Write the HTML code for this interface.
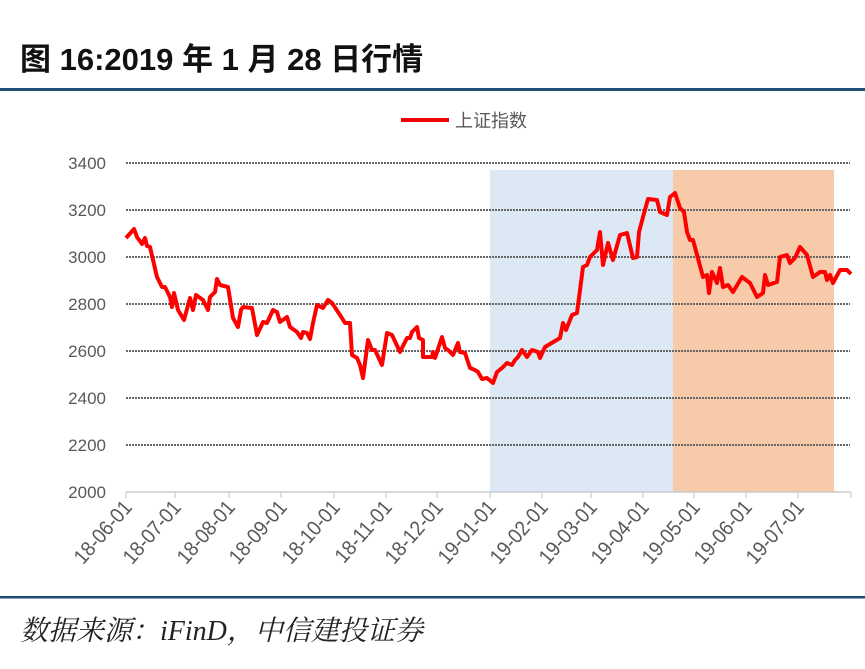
<!DOCTYPE html>
<html><head><meta charset="utf-8"><style>
html,body{margin:0;padding:0;background:#fff;width:865px;height:669px;overflow:hidden}
</style></head><body>
<svg width="865" height="669" viewBox="0 0 865 669" xmlns="http://www.w3.org/2000/svg" style="display:block">
<text x="20" y="70" font-family="Liberation Sans, Noto Sans CJK SC, sans-serif" font-weight="bold" font-size="31" fill="#111">图 16:2019 年 1 月 28 日行情</text>
<rect x="0" y="88" width="865" height="3" fill="#1f4e79"/>
<line x1="401" y1="120" x2="449" y2="120" stroke="#e00" stroke-width="4"/>
<text x="455" y="127" font-family="Liberation Sans, Noto Sans CJK SC, sans-serif" font-size="18" fill="#595959">上证指数</text>
<rect x="490" y="170" width="183" height="322" fill="#dce9f5"/>
<rect x="673" y="170" width="161" height="322" fill="#f7cbaa"/>
<g stroke="#666" stroke-width="2" stroke-dasharray="2,1">
<line x1="126" y1="163" x2="850" y2="163"/><line x1="126" y1="210" x2="850" y2="210"/><line x1="126" y1="257" x2="850" y2="257"/><line x1="126" y1="304" x2="850" y2="304"/><line x1="126" y1="351" x2="850" y2="351"/><line x1="126" y1="398" x2="850" y2="398"/><line x1="126" y1="445" x2="850" y2="445"/>
</g>
<line x1="126" y1="492" x2="851" y2="492" stroke="#ccc" stroke-width="1.5"/>
<g stroke="#ccc" stroke-width="1.2">
<line x1="126" y1="492" x2="126" y2="498"/><line x1="175" y1="492" x2="175" y2="498"/><line x1="229" y1="492" x2="229" y2="498"/><line x1="281" y1="492" x2="281" y2="498"/><line x1="334" y1="492" x2="334" y2="498"/><line x1="386" y1="492" x2="386" y2="498"/><line x1="437" y1="492" x2="437" y2="498"/><line x1="490" y1="492" x2="490" y2="498"/><line x1="542" y1="492" x2="542" y2="498"/><line x1="591" y1="492" x2="591" y2="498"/><line x1="643" y1="492" x2="643" y2="498"/><line x1="694" y1="492" x2="694" y2="498"/><line x1="746" y1="492" x2="746" y2="498"/><line x1="798" y1="492" x2="798" y2="498"/><line x1="851" y1="492" x2="851" y2="498"/>
</g>
<g font-family="Liberation Sans, sans-serif" font-size="17" fill="#595959" text-anchor="end">
<text x="106" y="169">3400</text><text x="106" y="216">3200</text><text x="106" y="263">3000</text><text x="106" y="310">2800</text><text x="106" y="357">2600</text><text x="106" y="404">2400</text><text x="106" y="451">2200</text><text x="106" y="498">2000</text>
</g>
<g font-family="Liberation Sans, sans-serif" font-size="19" fill="#595959" text-anchor="end">
<text transform="translate(133,508) rotate(-49) scale(1,1.1)">18-06-01</text>
<text transform="translate(182,508) rotate(-49) scale(1,1.1)">18-07-01</text>
<text transform="translate(236,508) rotate(-49) scale(1,1.1)">18-08-01</text>
<text transform="translate(288,508) rotate(-49) scale(1,1.1)">18-09-01</text>
<text transform="translate(341,508) rotate(-49) scale(1,1.1)">18-10-01</text>
<text transform="translate(393,508) rotate(-49) scale(1,1.1)">18-11-01</text>
<text transform="translate(444,508) rotate(-49) scale(1,1.1)">18-12-01</text>
<text transform="translate(497,508) rotate(-49) scale(1,1.1)">19-01-01</text>
<text transform="translate(549,508) rotate(-49) scale(1,1.1)">19-02-01</text>
<text transform="translate(598,508) rotate(-49) scale(1,1.1)">19-03-01</text>
<text transform="translate(650,508) rotate(-49) scale(1,1.1)">19-04-01</text>
<text transform="translate(701,508) rotate(-49) scale(1,1.1)">19-05-01</text>
<text transform="translate(753,508) rotate(-49) scale(1,1.1)">19-06-01</text>
<text transform="translate(805,508) rotate(-49) scale(1,1.1)">19-07-01</text>
</g>
<polyline fill="none" stroke="#f00" stroke-width="4" stroke-linejoin="round" points="126,238 134,229 137,237 142,244 145,238 147,246 150,247 157,277 162,287 165,287 170,297 172,307 174,293 178,310 184,320 190,298 193,310 196,295 203,300 208,310 210,297 215,292 217,279 220,285 228,287 233,318 238,327 241,310 243,307 252,308 257,335 263,322 267,323 273,310 277,312 280,322 287,317 290,327 297,332 301,338 303,332 307,333 310,339 313,323 317,305 323,308 328,300 332,303 340,315 345,323 350,323 352,355 357,358 360,365 363,378 368,340 372,350 375,350 382,365 387,333 392,335 400,352 407,338 410,338 412,332 417,327 419,338 423,340 423,357 432,357 433,352 435,358 442,337 445,348 448,350 453,355 458,343 460,352 465,353 470,368 475,370 478,372 482,379 487,378 493,383 497,372 502,368 507,363 512,365 515,360 518,357 522,350 527,357 532,350 538,352 540,358 545,347 560,338 563,323 566,330 572,315 577,313 583,267 587,265 590,257 597,250 600,232 603,265 608,243 613,260 620,235 627,233 633,258 637,257 639,232 643,217 648,199 657,200 660,212 667,215 670,197 675,193 680,208 684,212 687,232 690,240 693,240 703,277 707,275 709,293 712,272 717,283 720,268 723,287 728,285 733,292 742,277 750,283 757,297 763,293 765,275 768,285 777,282 780,257 787,255 790,263 795,258 800,247 807,255 813,277 820,272 825,272 827,280 830,275 833,283 840,270 847,270 851,274"/>
<rect x="0" y="596" width="865" height="2.5" fill="#1f4e79"/>
<text x="20" y="640" font-family="Liberation Serif, Noto Serif CJK SC, serif" font-style="italic" font-size="28" fill="#222">数据来源：iFinD，中信建投证券</text>
</svg>
</body></html>
